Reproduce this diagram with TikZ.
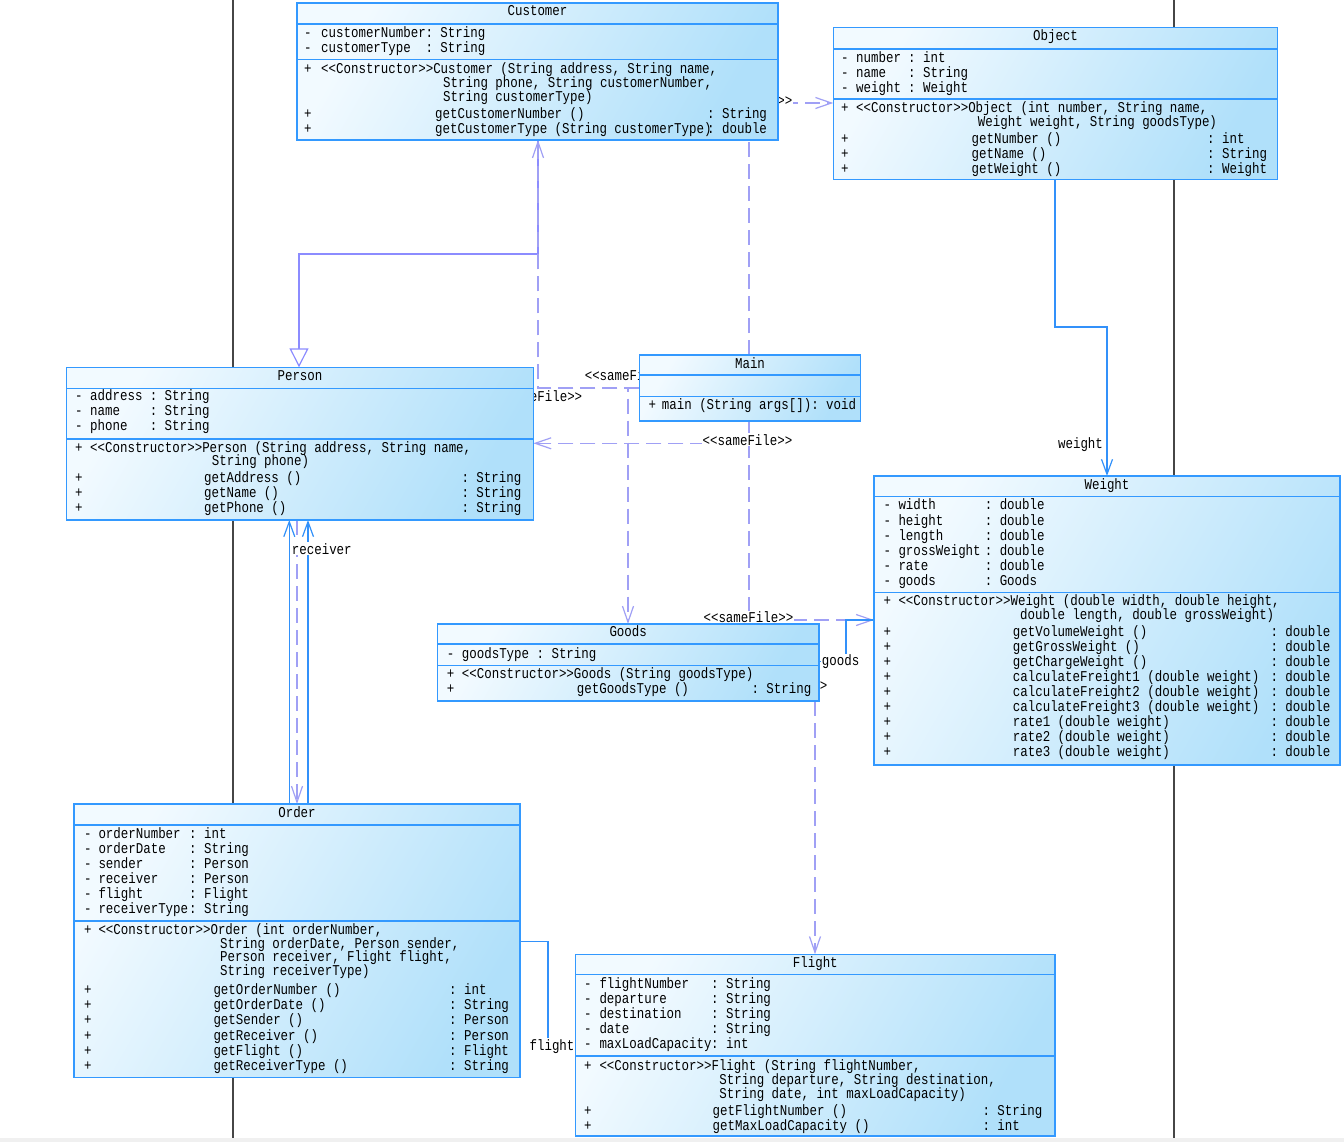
\documentclass[tikz,border=0pt]{standalone}
\usepackage{fontspec}
\setmonofont{Liberation Mono}[FakeStretch=0.83]
\usetikzlibrary{arrows.meta,calc}
\pgfdeclarelayer{bg}
\pgfdeclarelayer{conn}
\pgfsetlayers{bg,conn,main}
\definecolor{boxline}{RGB}{51,153,255}
\definecolor{boxtop}{RGB}{242,250,255}
\definecolor{boxbot}{RGB}{176,224,250}
\definecolor{genc}{RGB}{140,140,255}
\definecolor{depc}{RGB}{160,160,245}
\definecolor{assc}{RGB}{50,145,250}
\definecolor{bgline}{RGB}{70,70,70}
\newcommand\umlfont{\ttfamily\fontsize{15}{15}\selectfont}
\newcounter{tn}
\newcommand\tx[3]{\stepcounter{tn}\node[txt] (t\number\value{tn}) at (#1,-#2) {#3};}
\newcommand\ttl[3]{\stepcounter{tn}\node[txt,anchor=base] (t\number\value{tn}) at (#1,-#2) {#3};}
\newcommand\classbox[7]{%
 \node[cls, anchor=north west, minimum width={(#4-#2)*1pt}, minimum height={(#5-#3)*1pt}] (#1) at (#2,-#3) {};
 \draw[sepline] (#2,-#6) -- (#4,-#6);
 \draw[sepline] (#2,-#7) -- (#4,-#7);}
\begin{document}
\begin{tikzpicture}[x=1pt,y=1pt,
 cls/.style={draw=boxline, line width=1.3pt, top color=boxtop, bottom color=boxbot, shading angle=60, inner sep=0pt, outer sep=0pt},
 sepline/.style={draw=boxline, line width=1.3pt},
 txt/.style={font=\umlfont, inner sep=0pt, anchor=base west, text=black},
 lbl/.style={font=\umlfont, inner sep=1pt, fill=white, anchor=base, text=black},
 dep/.style={draw=depc, line width=1.2pt, dash pattern=on 15pt off 7pt, -{Straight Barb[length=16pt,width=11pt]}},
 gen/.style={draw=genc, line width=1.2pt, -{Triangle[open,length=19pt,width=19pt,fill=white]}},
 assoc/.style={draw=assc, line width=1.2pt, -{Straight Barb[length=15pt,width=11pt]}},
 assocplain/.style={draw=assc, line width=1.2pt},
 bgl/.style={draw=bgline, line width=1.5pt}]
\useasboundingbox (0,0) rectangle (1344,-1142);
\begin{pgfonlayer}{bg}
\fill[white] (0,0) rectangle (1344,-1142);
\fill[black!6] (0,-1138) rectangle (1344,-1142);
\draw[bgl] (233,0) -- (233,-1138);
\draw[bgl] (1174,0) -- (1174,-1138);
\end{pgfonlayer}

% Customer
\classbox{customer}{297}{3}{778}{140}{24}{59.3}
\ttl{537.5}{16}{Customer}
\tx{304}{37.3}{-}\tx{321}{37.3}{customerNumber}\tx{425.3}{37.3}{: String}
\tx{304}{52.3}{-}\tx{321}{52.3}{customerType}\tx{425.3}{52.3}{: String}
\tx{304}{74}{+}\tx{321}{74}{<<Constructor>>Customer (String address, String name,}
\tx{443}{87.3}{String phone, String customerNumber,}
\tx{443}{101.3}{String customerType)}
\tx{304}{119}{+}\tx{435}{119}{getCustomerNumber ()}\tx{707}{119}{: String}
\tx{304}{133.3}{+}\tx{435}{133.3}{getCustomerType (String customerType)}\tx{707}{133.3}{: double}

% Object
\classbox{object}{833.3}{27.7}{1277.7}{179.3}{49}{99}
\ttl{1055.5}{41}{Object}
\tx{841}{62.3}{-}\tx{856}{62.3}{number}\tx{908}{62.3}{: int}
\tx{841}{77.3}{-}\tx{856}{77.3}{name}\tx{908}{77.3}{: String}
\tx{841}{92.3}{-}\tx{856}{92.3}{weight}\tx{908}{92.3}{: Weight}
\tx{841}{112.3}{+}\tx{856}{112.3}{<<Constructor>>Object (int number, String name,}
\tx{977.7}{126.3}{Weight weight, String goodsType)}
\tx{841}{144}{+}\tx{971.5}{144}{getNumber ()}\tx{1207}{144}{: int}
\tx{841}{158.3}{+}\tx{971.5}{158.3}{getName ()}\tx{1207}{158.3}{: String}
\tx{841}{173.3}{+}\tx{971.5}{173.3}{getWeight ()}\tx{1207}{173.3}{: Weight}

% Person
\classbox{person}{66.7}{367.3}{533.3}{520}{388.3}{439}
\ttl{300}{380.7}{Person}
\tx{75}{400.7}{-}\tx{90}{400.7}{address}\tx{149.6}{400.7}{: String}
\tx{75}{415.7}{-}\tx{90}{415.7}{name}\tx{149.6}{415.7}{: String}
\tx{75}{430.7}{-}\tx{90}{430.7}{phone}\tx{149.6}{430.7}{: String}
\tx{75}{452.3}{+}\tx{90}{452.3}{<<Constructor>>Person (String address, String name,}
\tx{211.7}{465.7}{String phone)}
\tx{75}{482.3}{+}\tx{204}{482.3}{getAddress ()}\tx{461.3}{482.3}{: String}
\tx{75}{497.3}{+}\tx{204}{497.3}{getName ()}\tx{461.3}{497.3}{: String}
\tx{75}{512.3}{+}\tx{204}{512.3}{getPhone ()}\tx{461.3}{512.3}{: String}

% Main
\classbox{main}{639.3}{355}{860.7}{421}{375}{396.7}
\ttl{750}{368.3}{Main}
\tx{648.3}{409}{+}\tx{661.7}{409}{main (String args[]): void}

% Weight
\classbox{weight}{874}{476}{1340}{765}{496.7}{592.7}
\ttl{1107}{489}{Weight}
\tx{883.3}{509}{-}\tx{898.3}{509}{width}\tx{984.6}{509}{: double}
\tx{883.3}{525.7}{-}\tx{898.3}{525.7}{height}\tx{984.6}{525.7}{: double}
\tx{883.3}{540.7}{-}\tx{898.3}{540.7}{length}\tx{984.6}{540.7}{: double}
\tx{883.3}{555.7}{-}\tx{898.3}{555.7}{grossWeight}\tx{984.6}{555.7}{: double}
\tx{883.3}{570.7}{-}\tx{898.3}{570.7}{rate}\tx{984.6}{570.7}{: double}
\tx{883.3}{585.7}{-}\tx{898.3}{585.7}{goods}\tx{984.6}{585.7}{: Goods}
\tx{883.3}{605.7}{+}\tx{898.3}{605.7}{<<Constructor>>Weight (double width, double height,}
\tx{1020}{619}{double length, double grossWeight)}
\tx{883.3}{636.7}{+}\tx{1012.7}{636.7}{getVolumeWeight ()}\tx{1270.3}{636.7}{: double}
\tx{883.3}{651.7}{+}\tx{1012.7}{651.7}{getGrossWeight ()}\tx{1270.3}{651.7}{: double}
\tx{883.3}{666.7}{+}\tx{1012.7}{666.7}{getChargeWeight ()}\tx{1270.3}{666.7}{: double}
\tx{883.3}{681.7}{+}\tx{1012.7}{681.7}{calculateFreight1 (double weight)}\tx{1270.3}{681.7}{: double}
\tx{883.3}{696.7}{+}\tx{1012.7}{696.7}{calculateFreight2 (double weight)}\tx{1270.3}{696.7}{: double}
\tx{883.3}{711.7}{+}\tx{1012.7}{711.7}{calculateFreight3 (double weight)}\tx{1270.3}{711.7}{: double}
\tx{883.3}{726.7}{+}\tx{1012.7}{726.7}{rate1 (double weight)}\tx{1270.3}{726.7}{: double}
\tx{883.3}{741.7}{+}\tx{1012.7}{741.7}{rate2 (double weight)}\tx{1270.3}{741.7}{: double}
\tx{883.3}{756.7}{+}\tx{1012.7}{756.7}{rate3 (double weight)}\tx{1270.3}{756.7}{: double}

% Goods
\classbox{goods}{437.3}{624}{819}{701}{644}{665.7}
\ttl{628.2}{636.7}{Goods}
\tx{446.7}{658.3}{-}\tx{461.7}{658.3}{goodsType : String}
\tx{446.7}{678}{+}\tx{461.7}{678}{<<Constructor>>Goods (String goodsType)}
\tx{446.7}{693.3}{+}\tx{576.7}{693.3}{getGoodsType ()}\tx{751.3}{693.3}{: String}

% Order
\classbox{order}{74}{804}{520}{1077.3}{825}{921}
\ttl{297}{817.3}{Order}
\tx{84}{838}{-}\tx{98.3}{838}{orderNumber}\tx{189}{838}{: int}
\tx{84}{853.3}{-}\tx{98.3}{853.3}{orderDate}\tx{189}{853.3}{: String}
\tx{84}{868}{-}\tx{98.3}{868}{sender}\tx{189}{868}{: Person}
\tx{84}{883.3}{-}\tx{98.3}{883.3}{receiver}\tx{189}{883.3}{: Person}
\tx{84}{898}{-}\tx{98.3}{898}{flight}\tx{189}{898}{: Flight}
\tx{84}{913.3}{-}\tx{98.3}{913.3}{receiverType}\tx{189}{913.3}{: String}
\tx{84}{934.7}{+}\tx{98.3}{934.7}{<<Constructor>>Order (int orderNumber,}
\tx{220}{948.3}{String orderDate, Person sender,}
\tx{220}{961.7}{Person receiver, Flight flight,}
\tx{220}{975.7}{String receiverType)}
\tx{84}{994.7}{+}\tx{213.3}{994.7}{getOrderNumber ()}\tx{449}{994.7}{: int}
\tx{84}{1009}{+}\tx{213.3}{1009}{getOrderDate ()}\tx{449}{1009}{: String}
\tx{84}{1024.7}{+}\tx{213.3}{1024.7}{getSender ()}\tx{449}{1024.7}{: Person}
\tx{84}{1040.7}{+}\tx{213.3}{1040.7}{getReceiver ()}\tx{449}{1040.7}{: Person}
\tx{84}{1055.7}{+}\tx{213.3}{1055.7}{getFlight ()}\tx{449}{1055.7}{: Flight}
\tx{84}{1070.7}{+}\tx{213.3}{1070.7}{getReceiverType ()}\tx{449}{1070.7}{: String}

% Flight
\classbox{flight}{575.6}{954.3}{1055}{1136}{974.5}{1056}
\ttl{815.3}{967}{Flight}
\tx{584}{988.5}{-}\tx{599.3}{988.5}{flightNumber}\tx{711}{988.5}{: String}
\tx{584}{1003.5}{-}\tx{599.3}{1003.5}{departure}\tx{711}{1003.5}{: String}
\tx{584}{1018.5}{-}\tx{599.3}{1018.5}{destination}\tx{711}{1018.5}{: String}
\tx{584}{1033.5}{-}\tx{599.3}{1033.5}{date}\tx{711}{1033.5}{: String}
\tx{584}{1048.5}{-}\tx{599.3}{1048.5}{maxLoadCapacity}\tx{711}{1048.5}{: int}
\tx{584}{1070}{+}\tx{599.3}{1070}{<<Constructor>>Flight (String flightNumber,}
\tx{719.2}{1084}{String departure, String destination,}
\tx{719.2}{1098}{String date, int maxLoadCapacity)}
\tx{584}{1115}{+}\tx{712.4}{1115}{getFlightNumber ()}\tx{982.3}{1115}{: String}
\tx{584}{1130}{+}\tx{712.4}{1130}{getMaxLoadCapacity ()}\tx{982.3}{1130}{: int}

% connectors
\begin{pgfonlayer}{conn}
\coordinate (gA) at (538,-254);
\coordinate (gB) at (299,-254);
\coordinate (d1) at (538,-388);
\coordinate (d2) at (628,-388);
\coordinate (d3) at (749,-443.3);
\coordinate (d4) at (749,-620);
\coordinate (d5) at (749,-103);
\coordinate (d6) at (815,-701);
\coordinate (d7) at (297,-520);
\coordinate (a1) at (289.3,-520);
\coordinate (a2) at (308,-520);
\coordinate (a3) at (1055,-327);
\coordinate (a4) at (1107,-327);
\coordinate (a5) at (846,-620);
\coordinate (a6) at (846,-661.7);
\coordinate (a7) at (548,-941.7);
\coordinate (a8) at (548,-1044);

\draw[gen] (customer.south -| gA) -- (gA) -- (gB) -- (person.north -| gB);
\draw[dep] (main.west |- d1) -- (d1) -- (customer.south -| d1);
\draw[dep] (main.west |- d2) -- (d2) -- (goods.north -| d2);
\draw[dep] (main.south -| d3) -- (d3) -- (person.east |- d3);
\draw[dep] (main.south -| d4) -- (d4) -- (weight.west |- d4);
\draw[dep] (main.north -| d5) -- (d5) -- (object.west |- d5);
\draw[dep] (goods.south -| d6) -- (flight.north -| d6);
\draw[dep] (person.south -| d7) -- (order.north -| d7);

\draw[assoc] (order.north -| a1) -- (person.south -| a1);
\draw[assoc] (order.north -| a2) -- (person.south -| a2);
\draw[assoc] (object.south -| a3) -- (a3) -- (a4) -- (weight.north -| a4);
\draw[assocplain] (weight.west |- a5) -- (a5) -- (a6) -- (goods.east |- a6);
\draw[assocplain] (order.east |- a7) -- (a7) -- (a8) -- (flight.west |- a8);

\node[lbl] (l1) at (537.4,-401.5) {<<sameFile>>};
\node[lbl] (l2) at (629.6,-380.5) {<<sameFile>>};
\node[lbl] (l3) at (747.5,-445) {<<sameFile>>};
\node[lbl] (l4) at (748.4,-622.5) {<<sameFile>>};
\node[lbl] (l5) at (747.4,-106) {<<sameFile>>};
\node[lbl, fill=none, inner sep=0pt] (l6) at (823.5,-690) {>};
\node[lbl] (lrec) at (321.8,-554) {receiver};
\node[lbl] (lwei) at (1080.5,-448) {weight};
\node[lbl] (lgoo) at (840.6,-665.7) {goods};
\node[lbl] (lfli) at (552,-1050) {flight};
\end{pgfonlayer}
\end{tikzpicture}
\end{document}
